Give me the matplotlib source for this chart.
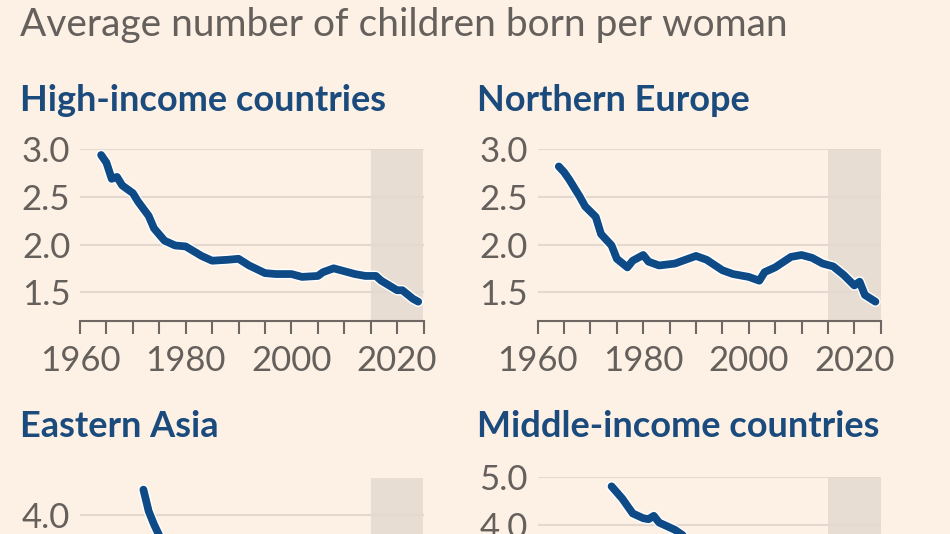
import matplotlib
matplotlib.use("Agg")
import matplotlib.pyplot as plt
import matplotlib.patheffects as pe

plt.rcParams['font.family'] = ['Lato', 'DejaVu Sans']

# values (fertility rate, children per woman)
hi_years = [1964, 1965, 1966, 1967, 1968, 1970, 1971, 1973, 1974, 1976, 1978, 1980, 1983, 1985, 1988,
            1990, 1992, 1995, 1997, 2000, 2002, 2005, 2006, 2008, 2010, 2012, 2014, 2016, 2017, 2020,
            2021, 2023, 2024]
hi_vals = [2.94, 2.86, 2.69, 2.71, 2.62, 2.54, 2.45, 2.30, 2.17, 2.04, 1.99, 1.98, 1.88, 1.83, 1.84,
           1.85, 1.78, 1.70, 1.69, 1.69, 1.66, 1.67, 1.71, 1.75, 1.72, 1.69, 1.67, 1.67, 1.62, 1.52,
           1.52, 1.43, 1.40]

ne_years = [1964, 1965, 1966, 1968, 1969, 1971, 1972, 1974, 1975, 1977, 1978, 1980, 1981, 1983, 1986,
            1988, 1990, 1992, 1995, 1997, 2000, 2002, 2003, 2005, 2008, 2010, 2012, 2014, 2016, 2018,
            2020, 2021, 2022, 2024]
ne_vals = [2.82, 2.76, 2.68, 2.50, 2.40, 2.29, 2.11, 1.99, 1.85, 1.76, 1.83, 1.89, 1.82, 1.78, 1.80,
           1.84, 1.88, 1.84, 1.73, 1.69, 1.66, 1.62, 1.71, 1.76, 1.87, 1.89, 1.86, 1.80, 1.77, 1.68,
           1.57, 1.61, 1.47, 1.40]

ea_years = [1972, 1973, 1974, 1975, 1976, 1977, 1978, 1980, 1983, 1985, 1987, 1990, 1992, 1995, 2000,
            2005, 2010, 2015, 2017, 2020, 2022, 2024]
ea_vals = [4.68, 4.10, 3.75, 3.45, 3.20, 3.00, 2.85, 2.60, 2.55, 2.50, 2.60, 2.40, 2.00, 1.75, 1.60,
           1.60, 1.60, 1.65, 1.70, 1.30, 1.10, 1.05]

mi_years = [1974, 1976, 1978, 1980, 1981, 1982, 1983, 1986, 1988, 1990, 1995, 2000, 2005, 2010, 2015,
            2020, 2024]
mi_vals = [4.80, 4.55, 4.24, 4.14, 4.12, 4.19, 4.05, 3.90, 3.75, 3.55, 3.10, 2.80, 2.60, 2.50, 2.40,
           2.20, 2.10]

titles = ['High-income countries', 'Northern Europe', 'Eastern Asia', 'Middle-income countries']
x_ticks = [1960, 1980, 2000, 2020]

BG = '#fdf1e6'
GREY = '#66605c'
BLUE_T = '#1a4b7c'
LINE = '#0e4a86'
GRID = '#e3d9cf'
SHADE = '#e8ddd3'
AXIS = '#6e6762'

W, H = 950, 534
fig = plt.figure(figsize=(9.5, 5.34), dpi=100, facecolor=BG)


def px_axes(x0, y_top, w, h):
    return fig.add_axes([x0 / W, (H - y_top - h) / H, w / W, h / H])


def panel(ax, years, vals, ylim, yticks, show_x=True):
    ax.set_facecolor('none')
    ax.set_xlim(1960, 2025)
    ax.set_ylim(*ylim)
    ax.axvspan(2015, 2025, color=SHADE, lw=0, zorder=0)
    for v in yticks:
        ax.axhline(v, color=GRID, lw=1.5, zorder=1)
    ax.plot(years, vals, color=LINE, lw=5.6, zorder=3, solid_capstyle='round',
            solid_joinstyle='round', clip_on=False,
            path_effects=[pe.Stroke(linewidth=7.6, foreground='white'), pe.Normal()])
    for s in ['top', 'right', 'left']:
        ax.spines[s].set_visible(False)
    ax.spines['bottom'].set_color(AXIS)
    ax.spines['bottom'].set_linewidth(1.5)
    ax.set_yticks(yticks)
    ax.set_yticklabels([f'{v:.1f}' for v in yticks])
    ax.tick_params(axis='y', length=0, pad=7, labelsize=25, labelcolor=GREY)
    ax.set_xticks(x_ticks)
    ax.set_xticks(range(1960, 2026, 5), minor=True)
    ax.tick_params(axis='x', which='both', length=9.4, width=1.5, color=AXIS,
                   direction='out', pad=8, labelsize=25, labelcolor=GREY,
                   labelbottom=show_x)


ax1 = px_axes(80, 149.3, 343.5, 171.4)
panel(ax1, hi_years, hi_vals, (1.2, 3.0), [1.5, 2.0, 2.5, 3.0])
ax2 = px_axes(537.7, 149.3, 343, 171.4)
panel(ax2, ne_years, ne_vals, (1.2, 3.0), [1.5, 2.0, 2.5, 3.0])
# lower row runs past the bottom edge of the frame, as in the reference
ax3 = px_axes(80, 477.7, 343.5, 171.6)
panel(ax3, ea_years, ea_vals, (0.4, 5.0), [1.0, 2.0, 3.0, 4.0], show_x=False)
ax4 = px_axes(537.7, 476.7, 343, 169)
panel(ax4, mi_years, mi_vals, (1.5, 5.0), [2.0, 3.0, 4.0, 5.0], show_x=False)

fig.text(20 / W, (H - 36) / H, 'Average number of children born per woman',
         fontsize=28, color=GREY, va='baseline', ha='left')
title_pos = [(20, 111), (477, 111), (20, 437), (477, 437)]
for t, (x, y) in zip(titles, title_pos):
    fig.text(x / W, (H - y) / H, t, fontsize=26, fontweight='bold', color=BLUE_T,
             va='baseline', ha='left')

fig.savefig('out.png', dpi=100, facecolor=BG)
